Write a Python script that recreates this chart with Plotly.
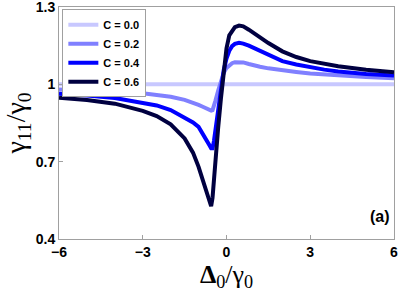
import plotly.graph_objects as go

delta = [-6, -5, -4, -3, -2.5, -2, -1.5, -1.2, -1.0, -0.85, -0.7, -0.6, -0.55, -0.5,
         -0.45, -0.4, -0.3, -0.2, -0.1, 0, 0.1, 0.2, 0.3, 0.45, 0.6, 0.8, 1.0, 1.2,
         1.5, 2, 2.5, 3, 3.5, 4, 5, 6]

gamma_c00 = [1.0] * len(delta)
gamma_c02 = [0.980, 0.977, 0.972, 0.965, 0.959, 0.952, 0.940, 0.930, 0.920, 0.913,
             0.905, 0.900, 0.898, 0.900, 0.915, 0.935, 0.975, 1.015, 1.045, 1.063,
             1.075, 1.082, 1.086, 1.087, 1.085, 1.079, 1.073, 1.068, 1.062, 1.054,
             1.048, 1.042, 1.038, 1.034, 1.028, 1.024]
gamma_c04 = [0.963, 0.957, 0.947, 0.930, 0.918, 0.900, 0.872, 0.852, 0.835, 0.810,
             0.780, 0.762, 0.752, 0.752, 0.780, 0.820, 0.900, 0.985, 1.055, 1.100,
             1.130, 1.148, 1.157, 1.161, 1.158, 1.150, 1.140, 1.128, 1.113, 1.090,
             1.077, 1.066, 1.057, 1.050, 1.040, 1.034]
gamma_c06 = [0.948, 0.939, 0.925, 0.897, 0.877, 0.845, 0.790, 0.735, 0.680, 0.630,
             0.580, 0.540, 0.527, 0.560, 0.640, 0.705, 0.830, 0.945, 1.040, 1.140,
             1.190, 1.210, 1.222, 1.228, 1.225, 1.212, 1.197, 1.182, 1.160, 1.128,
             1.106, 1.090, 1.079, 1.070, 1.057, 1.047]

labels = ["C = 0.0", "C = 0.2", "C = 0.4", "C = 0.6"]
series = [gamma_c00, gamma_c02, gamma_c04, gamma_c06]
colors = ["#c8c8ff", "#8080ff", "#0000ff", "#000040"]

x_ticks = [-6, -3, 0, 3, 6]
y_ticks = [0.4, 0.7, 1.0, 1.3]
y_tick_labels = ["0.4", "0.7", "1", "1.3"]

fig = go.Figure()
for lab, ys, col in zip(labels, series, colors):
    fig.add_trace(go.Scatter(x=delta, y=ys, mode="lines", name=lab,
                             line=dict(color=col, width=4)))

axcol = "#a0a0a0"
serif = "Liberation Serif, DejaVu Serif, serif"
fig.update_layout(
    width=399, height=294,
    margin=dict(l=59, r=5, t=7, b=55, autoexpand=False),
    plot_bgcolor="white", paper_bgcolor="white",
    font=dict(family="Liberation Sans, Arial, sans-serif", color="black"),
    legend=dict(x=0.01, y=0.99, xanchor="left", yanchor="top",
                bgcolor="white", bordercolor=axcol, borderwidth=1,
                font=dict(size=11, weight="bold"),
                tracegroupgap=0, itemwidth=30),
    xaxis=dict(range=[-6, 6], tickvals=x_ticks, showgrid=False, zeroline=False,
               showline=True, mirror=True, linecolor=axcol, linewidth=1,
               ticks="inside", ticklen=4, tickcolor=axcol, automargin=False,
               ticklabeloverflow="allow",
               tickfont=dict(size=14, weight="bold"),
               title=dict(text="<b>Δ</b><sub>0</sub>/γ<sub>0</sub>",
                          font=dict(family=serif, size=26),
                          standoff=0)),
    yaxis=dict(range=[0.4, 1.3], tickvals=y_ticks, ticktext=y_tick_labels,
               showgrid=False, zeroline=False,
               showline=True, mirror=True, linecolor=axcol, linewidth=1,
               ticks="inside", ticklen=4, tickcolor=axcol, automargin=False,
               ticklabeloverflow="allow",
               tickfont=dict(size=14, weight="bold"),
               title=dict(text="γ<sub>11</sub>/γ<sub>0</sub>",
                          font=dict(family=serif, size=28),
                          standoff=4)),
    showlegend=True,
)

fig.add_annotation(x=0.995, y=0.095, xref="paper", yref="paper", xanchor="right",
                   yanchor="middle", text="<b>(a)</b>", showarrow=False,
                   font=dict(size=16, color="black"))

fig.write_html("out.html", config={"displayModeBar": False},
               post_script="document.body.style.margin='0px';document.body.style.overflow='hidden';")
